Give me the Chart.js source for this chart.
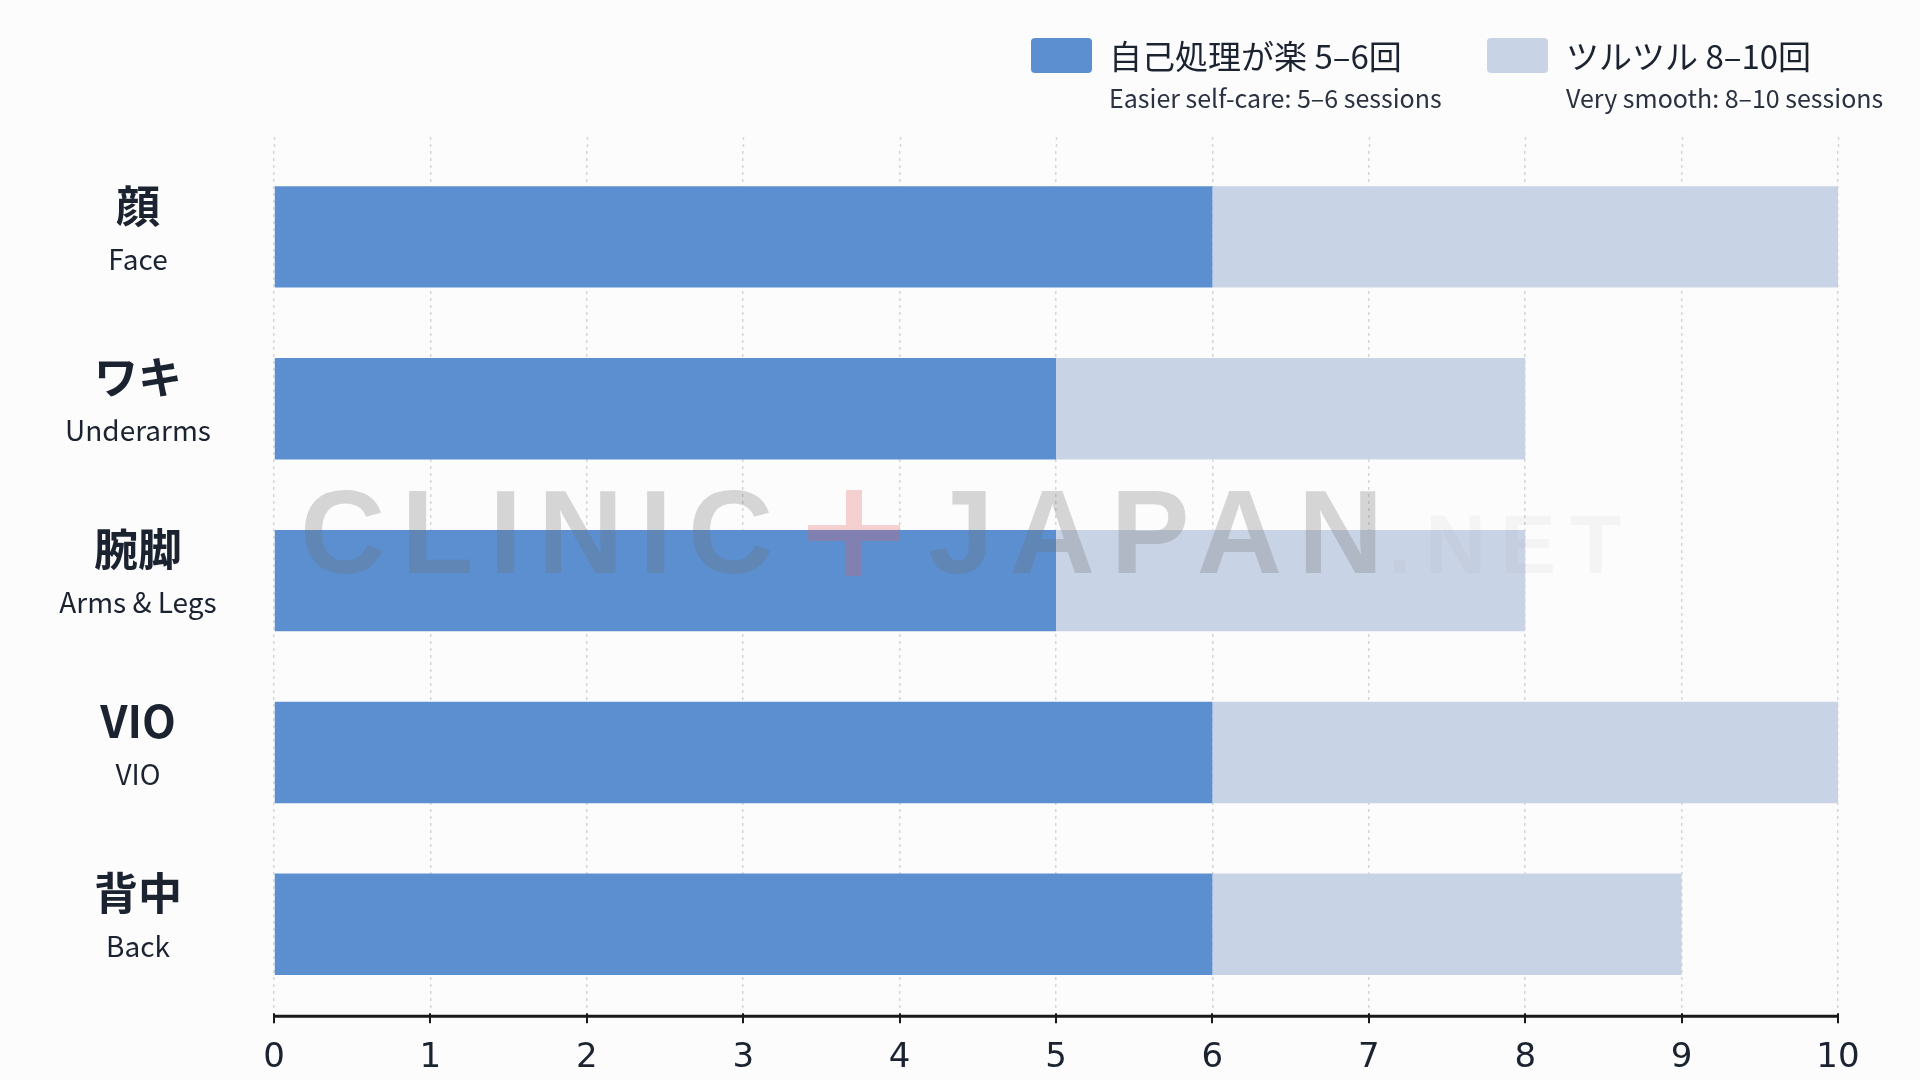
<!DOCTYPE html>
<html>
<head>
<meta charset="utf-8">
<script src="https://cdn.jsdelivr.net/npm/chart.js@4.4.1/dist/chart.umd.min.js"></script>
<style>
body { margin: 0; background: #fcfcfc; font-family: 'Noto Sans CJK JP', sans-serif; overflow: hidden; }
#wrap { position: relative; width: 1920px; height: 1080px; overflow: hidden; }
#chart { position: absolute; left: 0; top: 0; }
.legend { position: absolute; top: 35px; color: #1b2230; }
.legend .sw { position: absolute; left: 0; top: 3px; width: 61px; height: 35px; border-radius: 4px; }
.legend .main { position: absolute; white-space: nowrap; font-size: 33px; line-height: 40px; top: 0; }
.legend .sub { position: absolute; white-space: nowrap; font-size: 25px; line-height: 30px; top: 47px; color: #2a3140; }
.wm { position: absolute; top: 462px; font-family: 'Liberation Sans', Arial, sans-serif; font-weight: bold;
      font-size: 118px; letter-spacing: 16px; white-space: nowrap; pointer-events: none; line-height: 140px; }
.wm.g { color: rgba(110,110,110,0.28); }
.wm.n { color: rgba(140,140,140,0.07); font-size: 84px; letter-spacing: 14px; top: 474px; }
.cross { position: absolute; background: rgba(228,95,95,0.28); pointer-events: none; }
</style>
</head>
<body>
<div id="wrap">
  <canvas id="chart" width="1920" height="1107"></canvas>
  <div class="legend" style="left:1031px">
    <div class="sw" style="background:#5b8fd0"></div>
    <div class="main" style="left:78px">自己処理が楽 5–6回</div>
    <div class="sub" style="left:78px">Easier self-care: 5–6 sessions</div>
  </div>
  <div class="legend" style="left:1487px">
    <div class="sw" style="background:#c9d3e6"></div>
    <div class="main" style="left:79px">ツルツル 8–10回</div>
    <div class="sub" style="left:79px">Very smooth: 8–10 sessions</div>
  </div>
  <div class="wm g" style="left:300px">CLINIC</div>
  <div class="cross" style="left:808px;top:525px;width:92px;height:16px"></div>
  <div class="cross" style="left:846px;top:490px;width:16px;height:35px"></div>
  <div class="cross" style="left:846px;top:541px;width:16px;height:35px"></div>
  <div class="wm g" style="left:928px">JAPAN</div>
  <div class="wm n" style="left:1388px">.NET</div>
</div>
<script>
// body areas (Japanese / English)
const partsJa = ['顔', 'ワキ', '腕脚', 'VIO', '背中'];
const partsEn = ['Face', 'Underarms', 'Arms & Legs', 'VIO', 'Back'];

// sessions
const easySessions = [6, 5, 5, 6, 6];      // 自己処理が楽
const smoothSessions = [10, 8, 8, 10, 9];  // ツルツル
const xTicks = [0, 1, 2, 3, 4, 5, 6, 7, 8, 9, 10];

const easyLabel = '自己処理が楽 5–6回';
const smoothLabel = 'ツルツル 8–10回';

// the light bar is stacked on top of the dark one
const smoothExtra = smoothSessions.map((v, i) => v - easySessions[i]);

const sideLabels = {
    id: 'sideLabels',
    afterDraw(chart) {
        const ctx = chart.ctx;
        const y = chart.scales.y;
        ctx.save();
        ctx.textAlign = 'center';
        ctx.textBaseline = 'middle';
        ctx.fillStyle = '#1b2230';
        partsJa.forEach((ja, i) => {
            const cy = y.getPixelForValue(i);
            ctx.font = 'bold 44px "Noto Sans CJK JP"';
            ctx.fillText(ja, 138, cy - 31);
            ctx.font = '28px "Noto Sans CJK JP"';
            ctx.fillText(partsEn[i], 138, cy + 22);
        });
        ctx.restore();
    }
};

// grid lines run a little above the first bar; the axis line sits a bit below the plot
const axisExtras = {
    id: 'axisExtras',
    beforeDatasetsDraw(chart) {
        const ctx = chart.ctx;
        const x = chart.scales.x;
        const top = chart.chartArea.top;
        ctx.save();
        ctx.strokeStyle = '#d6d6d6';
        ctx.lineWidth = 1.5;
        ctx.setLineDash([3, 4]);
        xTicks.forEach(v => {
            const px = Math.round(x.getPixelForValue(v)) + 0.5;
            ctx.beginPath();
            ctx.moveTo(px, top - 14);
            ctx.lineTo(px, top);
            ctx.stroke();
        });
        ctx.restore();
    },
    afterDraw(chart) {
        const ctx = chart.ctx;
        const x = chart.scales.x;
        const ay = chart.chartArea.bottom + 6;
        ctx.save();
        ctx.strokeStyle = '#1a1a1a';
        ctx.lineWidth = 3;
        ctx.beginPath();
        ctx.moveTo(x.getPixelForValue(0) - 1, ay);
        ctx.lineTo(x.getPixelForValue(10) + 1, ay);
        ctx.stroke();
        ctx.lineWidth = 2;
        xTicks.forEach(v => {
            const px = Math.round(x.getPixelForValue(v));
            ctx.beginPath();
            ctx.moveTo(px, ay - 3);
            ctx.lineTo(px, ay + 7);
            ctx.stroke();
        });
        ctx.restore();
    }
};

const ctx = document.getElementById('chart');
new Chart(ctx, {
    type: 'bar',
    data: {
        labels: partsJa,
        datasets: [
            {
                label: easyLabel,
                data: easySessions,
                backgroundColor: '#5b8fd0',
                barPercentage: 0.59,
                categoryPercentage: 1.0
            },
            {
                label: smoothLabel,
                data: smoothExtra,
                backgroundColor: '#c9d3e6',
                barPercentage: 0.59,
                categoryPercentage: 1.0
            }
        ]
    },
    options: {
        indexAxis: 'y',
        responsive: false,
        animation: false,
        layout: { padding: { left: 274, right: 82, top: 151, bottom: 0 } },
        plugins: {
            legend: { display: false },
            tooltip: { enabled: false }
        },
        scales: {
            x: {
                stacked: true,
                min: 0,
                max: 10,
                afterBuildTicks: axis => { axis.ticks = xTicks.map(v => ({ value: v })); },
                grid: {
                    color: '#d6d6d6',
                    lineWidth: 1.5,
                    drawTicks: false
                },
                border: { display: false, dash: [3, 4] },
                ticks: {
                    color: '#1b2230',
                    padding: 28,
                    font: { family: "'DejaVu Sans', sans-serif", size: 34 }
                }
            },
            y: {
                stacked: true,
                display: false
            }
        }
    },
    plugins: [sideLabels, axisExtras]
});
</script>
</body>
</html>
